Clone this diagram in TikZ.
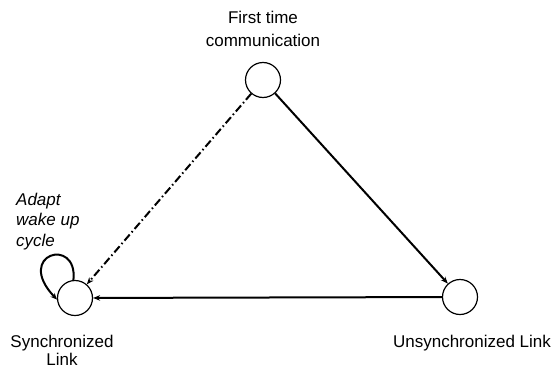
\documentclass[tikz,border=0pt]{standalone}
\usepackage{fontspec}
\setmainfont{Liberation Sans}
\usetikzlibrary{arrows.meta}
\begin{document}
\begin{tikzpicture}[x=1pt,y=-1pt,
  state/.style={circle,draw,line width=1.2pt,minimum size=35pt,inner sep=0pt},
  lbl/.style={font=\fontsize{17}{21}\selectfont,align=center,inner sep=0pt},
  conn/.style={line width=2pt,-{Stealth[length=7pt,width=5.5pt]}},
  dashdot/.style={conn,dash pattern=on 8pt off 3pt on 1.5pt off 3pt}]
\useasboundingbox (0,0) rectangle (553,369);
\node[state] (top) at (263,80) {};
\node[state] (left) at (75,298) {};
\node[state] (right) at (460,297) {};
\node[lbl,anchor=base,font=\fontsize{17}{23}\selectfont] (ttop) at (263,46) {First time\\communication};
\node[lbl,anchor=base,font=\fontsize{17}{18}\selectfont] (tleft) at (62,365.5) {Synchronized\\Link};
\node[lbl,anchor=base] (tright) at (472,347) {Unsynchronized Link};
\node[lbl,anchor=base west,align=left,font=\fontsize{17}{20.5}\selectfont\itshape] (tloop) at (16,246) {Adapt\\wake up\\cycle};
\draw[conn] (top) -- (right);
\draw[conn] (right) -- (left);
\draw[dashdot] (top) -- (left);
\draw[line width=2pt,-{Stealth[length=6.5pt,width=5.5pt]}] (left.95) .. controls (78,236) and (14,254) .. (left.185);
\end{tikzpicture}
\end{document}
